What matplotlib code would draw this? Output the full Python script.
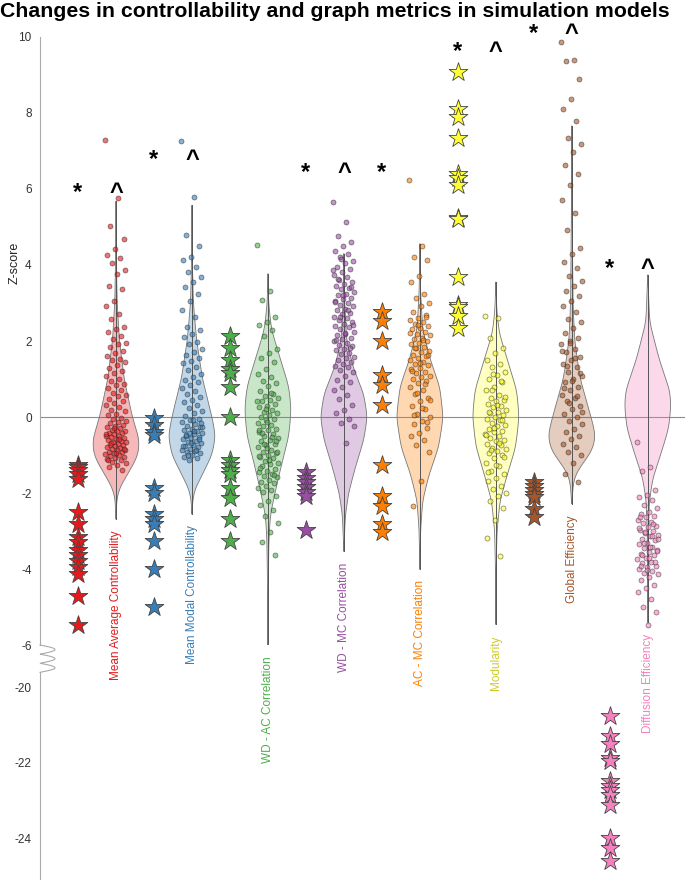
import matplotlib
matplotlib.use('Agg')
import matplotlib.pyplot as plt
import matplotlib.transforms as mtransforms
import numpy as np
from matplotlib.lines import Line2D

plt.rcParams['font.family'] = ['Liberation Sans', 'DejaVu Sans']
plt.rcParams['axes.unicode_minus'] = False

metrics = ['Mean Average Controllability', 'Mean Modal Controllability',
           'WD - AC Correlation', 'WD - MC Correlation', 'AC - MC Correlation',
           'Modularity', 'Global Efficiency', 'Diffusion Efficiency']
colors = ['#e41a1c', '#377eb8', '#4daf4a', '#984ea3',
          '#ff7f00', '#ffff33', '#a65628', '#f781bf']
label_colors = ['#e41a1c', '#377eb8', '#4daf4a', '#984ea3',
                '#ff7f00', '#cccc2e', '#a65628', '#f781bf']

# violin outlines: z knots (top -> bottom) and relative width
violin_z = [
    [5.68, 4.0, 3.0, 2.0, 1.0, 0.0, -0.6, -1.0, -1.4, -1.8, -2.1, -2.68],
    [5.57, 4.0, 3.0, 2.0, 1.0, 0.0, -0.5, -1.0, -1.5, -1.9, -2.2, -2.55],
    [3.77, 3.0, 2.3, 1.5, 0.8, 0.2, -0.5, -1.2, -2.0, -2.6, -3.3, -4.5, -6.0],
    [4.30, 3.0, 2.0, 1.3, 0.6, 0.0, -0.6, -1.3, -2.0, -2.6, -3.53],
    [4.56, 3.3, 2.3, 1.5, 0.8, 0.0, -0.8, -1.5, -2.2, -3.0, -4.0],
    [3.55, 2.8, 2.2, 1.5, 0.7, 0.0, -0.8, -1.5, -2.2, -3.0, -4.0, -5.45],
    [7.66, 5.0, 3.0, 2.0, 1.0, 0.0, -0.5, -0.9, -1.3, -1.6, -2.28],
    [3.74, 2.5, 1.5, 0.7, 0.3, -0.3, -1.0, -1.6, -2.2, -3.0, -5.4],
]
violin_w = [
    [0, 0.02, 0.05, 0.15, 0.35, 0.7, 1.0, 0.95, 0.6, 0.2, 0.04, 0],
    [0, 0.02, 0.06, 0.2, 0.45, 0.85, 1.0, 0.85, 0.45, 0.12, 0.03, 0],
    [0, 0.03, 0.15, 0.55, 0.9, 1.0, 0.9, 0.6, 0.3, 0.1, 0.04, 0.015, 0],
    [0, 0.03, 0.12, 0.4, 0.85, 1.0, 0.85, 0.5, 0.2, 0.06, 0],
    [0, 0.03, 0.12, 0.45, 0.85, 1.0, 0.8, 0.4, 0.12, 0.03, 0],
    [0, 0.04, 0.15, 0.5, 0.9, 1.0, 0.85, 0.5, 0.18, 0.05, 0.015, 0],
    [0, 0.02, 0.05, 0.12, 0.35, 0.8, 1.0, 0.85, 0.35, 0.08, 0],
    [0, 0.08, 0.5, 0.95, 1.0, 0.9, 0.55, 0.22, 0.07, 0.02, 0],
]

# single-model values (stars)
stars = [
    [-1.25, -1.32, -1.4, -1.5, -1.62, -2.5, -2.82, -3.15, -3.3, -3.5, -3.62,
     -3.78, -3.95, -4.12, -4.72, -5.47],
    [-0.03, -0.2, -0.4, -0.48, -1.88, -1.99, -2.55, -2.68, -2.81, -3.26, -4.0, -4.99],
    [2.13, 1.82, 1.51, 1.27, 1.17, 0.8, 0.01, -1.14, -1.25, -1.4, -1.5, -1.86,
     -2.12, -2.68, -3.26],
    [-1.45, -1.6, -1.72, -1.85, -1.98, -2.08, -2.97],
    [2.75, 2.53, 2.0, 1.1, 0.85, 0.32, -1.27, -2.08, -2.33, -2.82, -3.02],
    [9.07, 8.1, 7.9, 7.35, 6.4, 6.3, 6.1, 5.23, 5.2, 3.68, 2.95, 2.9, 2.66, 2.35],
    [-1.7, -1.82, -1.93, -2.02, -2.1, -2.42, -2.62],
    [-20.76, -21.3, -21.5, -21.88, -21.95, -22.5, -22.62, -22.72, -22.85,
     -23.13, -24.0, -24.27, -24.62],
]

# simulated-model values (dots)
dots = [
    [7.3, 5.75, 5.02, 4.68, 4.41, 4.26, 4.19, 4.04, 3.88, 3.77, 3.46, 3.38, 3.06,
     2.93, 2.71, 2.58, 2.36, 2.31, 2.24, 2.13, 2.04, 1.96, 1.91, 1.84, 1.73, 1.69,
     1.61, 1.53, 1.49, 1.44, 1.36, 1.29, 1.22, 1.16, 1.08, 1.01, 0.96, 0.88, 0.83,
     0.76, 0.71, 0.64, 0.58, 0.54, 0.47, 0.43, 0.38, 0.31, 0.27, 0.19, 0.16, 0.09,
     0.04, -0.02, -0.06, -0.11, -0.13, -0.17, -0.21, -0.23, -0.26, -0.29, -0.33,
     -0.36, -0.37, -0.41, -0.43, -0.46, -0.49, -0.51, -0.53, -0.56, -0.57, -0.61,
     -0.63, -0.66, -0.67, -0.71, -0.73, -0.74, -0.77, -0.79, -0.81, -0.83, -0.86,
     -0.87, -0.91, -0.93, -0.96, -0.97, -1.01, -1.03, -1.06, -1.09, -1.11, -1.14,
     -1.18, -1.22, -1.27, -1.31, -1.39, -0.28, -0.44, -0.59, -0.69, -0.84, -0.94,
     -1.13],
    [7.25, 5.8, 4.78, 4.49, 4.21, 4.14, 3.94, 3.81, 3.69, 3.56, 3.42, 3.24, 3.06,
     2.81, 2.64, 2.36, 2.29, 2.18, 2.11, 1.98, 1.92, 1.79, 1.71, 1.63, 1.56, 1.48,
     1.41, 1.32, 1.24, 1.13, 1.06, 0.98, 0.91, 0.84, 0.76, 0.69, 0.61, 0.53, 0.46,
     0.39, 0.31, 0.24, 0.16, 0.11, 0.03, -0.04, -0.09, -0.14, -0.19, -0.23, -0.26,
     -0.31, -0.33, -0.36, -0.41, -0.43, -0.46, -0.49, -0.53, -0.56, -0.59, -0.63,
     -0.66, -0.69, -0.73, -0.76, -0.79, -0.83, -0.86, -0.89, -0.93, -0.96, -1.01,
     -1.04, -1.09, -1.14, -0.27, -0.38, -0.47, -0.58, -0.68, -0.77, -0.88, -0.99,
     -0.17, -0.07],
    [4.52, 3.31, 3.08, 2.62, 2.49, 2.41, 2.28, 2.14, 1.79, 1.68, 1.56, 1.44, 1.26,
     1.14, 1.04, 0.96, 0.89, 0.81, 0.69, 0.61, 0.56, 0.49, 0.44, 0.41, 0.34, 0.29,
     0.26, 0.19, 0.14, 0.11, 0.04, -0.01, -0.06, -0.09, -0.16, -0.21, -0.24, -0.31,
     -0.34, -0.39, -0.46, -0.49, -0.56, -0.61, -0.64, -0.71, -0.74, -0.79, -0.86,
     -0.91, -0.94, -0.99, -1.06, -1.09, -1.16, -1.21, -1.24, -1.29, -1.36, -1.41,
     -1.44, -1.51, -1.56, -1.59, -1.66, -1.71, -1.74, -1.81, -1.86, -1.91, -1.98,
     -2.09, -2.21, -2.32, -2.44, -2.61, -2.79, -3.02, -3.28, -3.62, -0.12, -0.33,
     -0.53, -0.72, -0.93, -1.12, -1.33, -1.52, 0.22, 0.42, 0.63, -0.42, -0.63,
     -0.82, -1.02],
    [5.65, 5.14, 4.76, 4.61, 4.49, 4.36, 4.29, 4.21, 4.11, 4.04, 3.96, 3.89, 3.81,
     3.74, 3.69, 3.61, 3.56, 3.49, 3.46, 3.39, 3.36, 3.29, 3.24, 3.21, 3.14, 3.11,
     3.04, 2.99, 2.94, 2.91, 2.84, 2.81, 2.74, 2.71, 2.64, 2.61, 2.54, 2.49, 2.46,
     2.39, 2.36, 2.31, 2.24, 2.19, 2.16, 2.09, 2.04, 1.99, 1.96, 1.89, 1.86, 1.79,
     1.76, 1.69, 1.66, 1.59, 1.54, 1.49, 1.46, 1.39, 1.34, 1.31, 1.24, 1.19, 1.09,
     0.98, 0.91, 0.79, 0.71, 0.59, 0.48, 0.31, 0.19, 0.11, -0.04, -0.16, -0.24,
     -0.69, 3.62, 3.42, 3.22, 3.02, 2.82, 2.62, 2.42, 2.22, 2.02, 1.82, 4.16, 3.86],
    [6.24, 4.51, 4.21, 4.12, 3.71, 3.56, 3.24, 3.14, 2.99, 2.91, 2.76, 2.69, 2.61,
     2.56, 2.49, 2.46, 2.39, 2.34, 2.31, 2.24, 2.19, 2.16, 2.09, 2.04, 1.99, 1.94,
     1.91, 1.84, 1.81, 1.74, 1.71, 1.64, 1.61, 1.54, 1.49, 1.46, 1.39, 1.36, 1.29,
     1.26, 1.19, 1.16, 1.09, 1.04, 0.99, 0.94, 0.89, 0.79, 0.71, 0.61, 0.49, 0.41,
     0.29, 0.21, 0.09, -0.01, -0.11, -0.19, -0.29, -0.41, -0.49, -0.61, -0.74,
     -0.91, -1.69, -2.34, 2.62, 2.42, 2.22, 2.02, 1.82, 1.62, 1.42, 1.22, 0.86,
     0.64, 0.46, 0.24, 0.06, -0.14],
    [2.66, 2.61, 2.09, 1.81, 1.69, 1.51, 1.39, 1.31, 1.19, 1.11, 0.99, 0.91, 0.79,
     0.71, 0.59, 0.51, 0.44, 0.41, 0.34, 0.29, 0.26, 0.19, 0.14, 0.11, 0.04, -0.01,
     -0.06, -0.09, -0.16, -0.21, -0.24, -0.31, -0.36, -0.39, -0.46, -0.49, -0.56,
     -0.61, -0.64, -0.71, -0.74, -0.81, -0.84, -0.89, -0.96, -0.99, -1.09, -1.21,
     -1.29, -1.41, -1.49, -1.61, -1.69, -1.81, -1.89, -2.01, -2.09, -2.21, -2.39,
     -2.72, -3.18, -3.66, 0.72, 0.52, 0.32, 0.12, -0.08, -0.28, -0.48, -0.68,
     -0.88, -1.04, -1.26, -1.44, 0.96, 1.14],
    [9.87, 9.4, 9.36, 8.9, 8.38, 8.1, 7.8, 7.35, 7.18, 6.98, 6.62, 6.4, 6.1, 5.71,
     5.38, 4.92, 4.44, 4.29, 4.09, 3.91, 3.71, 3.59, 3.46, 3.31, 3.19, 3.04, 2.91,
     2.76, 2.59, 2.51, 2.34, 2.21, 2.09, 1.99, 1.91, 1.79, 1.71, 1.59, 1.51, 1.39,
     1.31, 1.19, 1.09, 0.99, 0.91, 0.79, 0.71, 0.59, 0.49, 0.41, 0.29, 0.21, 0.09,
     -0.01, -0.11, -0.19, -0.31, -0.39, -0.51, -0.59, -0.71, -0.79, -0.91, -0.99,
     -1.21, -1.49, -1.71, 1.96, 1.74, 1.56, 1.34, 1.16, 0.94, 0.76, 0.54, 0.36,
     0.14],
    [-0.65, -1.32, -1.41, -1.91, -2.04, -2.11, -2.19, -2.31, -2.39, -2.51, -2.56,
     -2.61, -2.64, -2.71, -2.76, -2.79, -2.86, -2.89, -2.96, -3.01, -3.04, -3.11,
     -3.14, -3.21, -3.24, -3.31, -3.34, -3.41, -3.44, -3.51, -3.54, -3.61, -3.64,
     -3.71, -3.74, -3.81, -3.84, -3.91, -3.94, -4.01, -4.04, -4.11, -4.14, -4.21,
     -4.29, -4.41, -4.49, -4.61, -4.79, -5.01, -5.12, -5.47, -2.62, -2.82, -3.02,
     -3.22, -3.42, -3.62, -3.82, -4.02, -2.92, -3.12, -3.32, -3.52, -3.72, -3.92],
]

# significance marks: '*' over the stars, '^' over the violin
sig_star = [6.1, 6.95, None, 6.63, 6.63, 9.8, 10.27, 4.1]
sig_caret = [6.1, 6.95, None, 6.63, None, 9.8, 10.27, 4.1]

fig = plt.figure(figsize=(6.85, 8.8), dpi=100)
ax = fig.add_axes([40 / 685, 0.267, 1 - 40 / 685, 0.691])
axb = fig.add_axes([40 / 685, 0.0, 1 - 40 / 685, 0.236])

for a in (ax, axb):
    a.set_xlim(0, 8.49)
    for s in ('top', 'right', 'bottom'):
        a.spines[s].set_visible(False)
    a.spines['left'].set_color('#aaaaaa')
    a.spines['left'].set_linewidth(0.8)
    a.set_xticks([])
    a.tick_params(axis='y', length=0, labelsize=8.5, labelcolor='#333333', pad=6)
    a.patch.set_alpha(0)

ax.set_ylim(-6, 10)
ax.set_yticks(range(-6, 11, 2))
axb.set_ylim(-25.11, -19.61)
axb.set_yticks([-24, -22, -20])

ax.axhline(0, color='#8c8c8c', lw=0.8, zorder=0.5)

# the glyphs sit high in their boxes, nudge them down a few pixels
mark_tr = mtransforms.offset_copy(ax.transData, fig=fig, y=-7, units='dots')

half_w = 0.3
for i, name in enumerate(metrics):
    xc = i + 1
    col = colors[i]
    zk = np.array(violin_z[i])[::-1]
    wk = np.array(violin_w[i])[::-1]
    zz = np.linspace(zk[0], zk[-1], 400)
    ww = np.interp(zz, zk, wk)
    kern = np.exp(-0.5 * (np.arange(-20, 21) / 7.0) ** 2)
    ww = np.convolve(ww, kern / kern.sum(), mode='same')
    ww = ww / ww.max() * half_w
    ax.fill_betweenx(zz, xc - ww, xc + ww, facecolor=col, alpha=0.3,
                     edgecolor='none', zorder=1)
    ax.plot(np.r_[xc - ww, (xc + ww)[::-1]], np.r_[zz, zz[::-1]],
            color='#777777', lw=0.6, zorder=1.2)
    ax.plot([xc, xc], [zk[0], zk[-1]], color='#555555', lw=0.7, zorder=1.3)

    # deterministic spread of the dots around the violin centre
    d = np.array(dots[i])
    jit = ((np.arange(len(d)) * 0.618034) % 1 - 0.5) * 0.28
    ax.scatter(xc + jit, d, s=13, color=col, alpha=0.6, edgecolors='#222222',
               linewidths=0.5, zorder=2)

    sx = xc - 0.5
    target = axb if i == 7 else ax
    target.scatter(np.full(len(stars[i]), sx), stars[i], marker='*', s=200,
                   color=col, edgecolors='#444444', linewidths=0.6, zorder=3,
                   clip_on=False)

    if sig_star[i] is not None:
        ax.text(sx, sig_star[i], '*', fontsize=17, fontweight='bold',
                ha='center', va='center', clip_on=False, transform=mark_tr)
    if sig_caret[i] is not None:
        ax.text(xc, sig_caret[i], '^', fontsize=17, fontweight='bold',
                ha='center', va='center', clip_on=False, transform=mark_tr)

    ax.text(xc, zk[0] - 0.3, name, rotation=90, ha='center', va='top',
            color=label_colors[i], fontsize=8.5, clip_on=False)

# broken-axis squiggle between -6 and -20
t = np.linspace(0, 1, 200)
x0 = 40 / 685
xs = x0 + (15 / 685) * np.abs(np.sin(3 * np.pi * t))
ys = 0.267 - (0.267 - 0.236) * t
fig.add_artist(Line2D(xs, ys, transform=fig.transFigure, color='#aaaaaa', lw=0.8))

fig.text(15 / 685, 0.701, 'Z-score', rotation=90, ha='center', va='center',
         fontsize=9, color='#222222')
fig.text(0.0, 0.998, 'Changes in controllability and graph metrics in simulation models',
         ha='left', va='top', fontsize=15.3, fontweight='bold')

fig.savefig('out.png', dpi=100)
